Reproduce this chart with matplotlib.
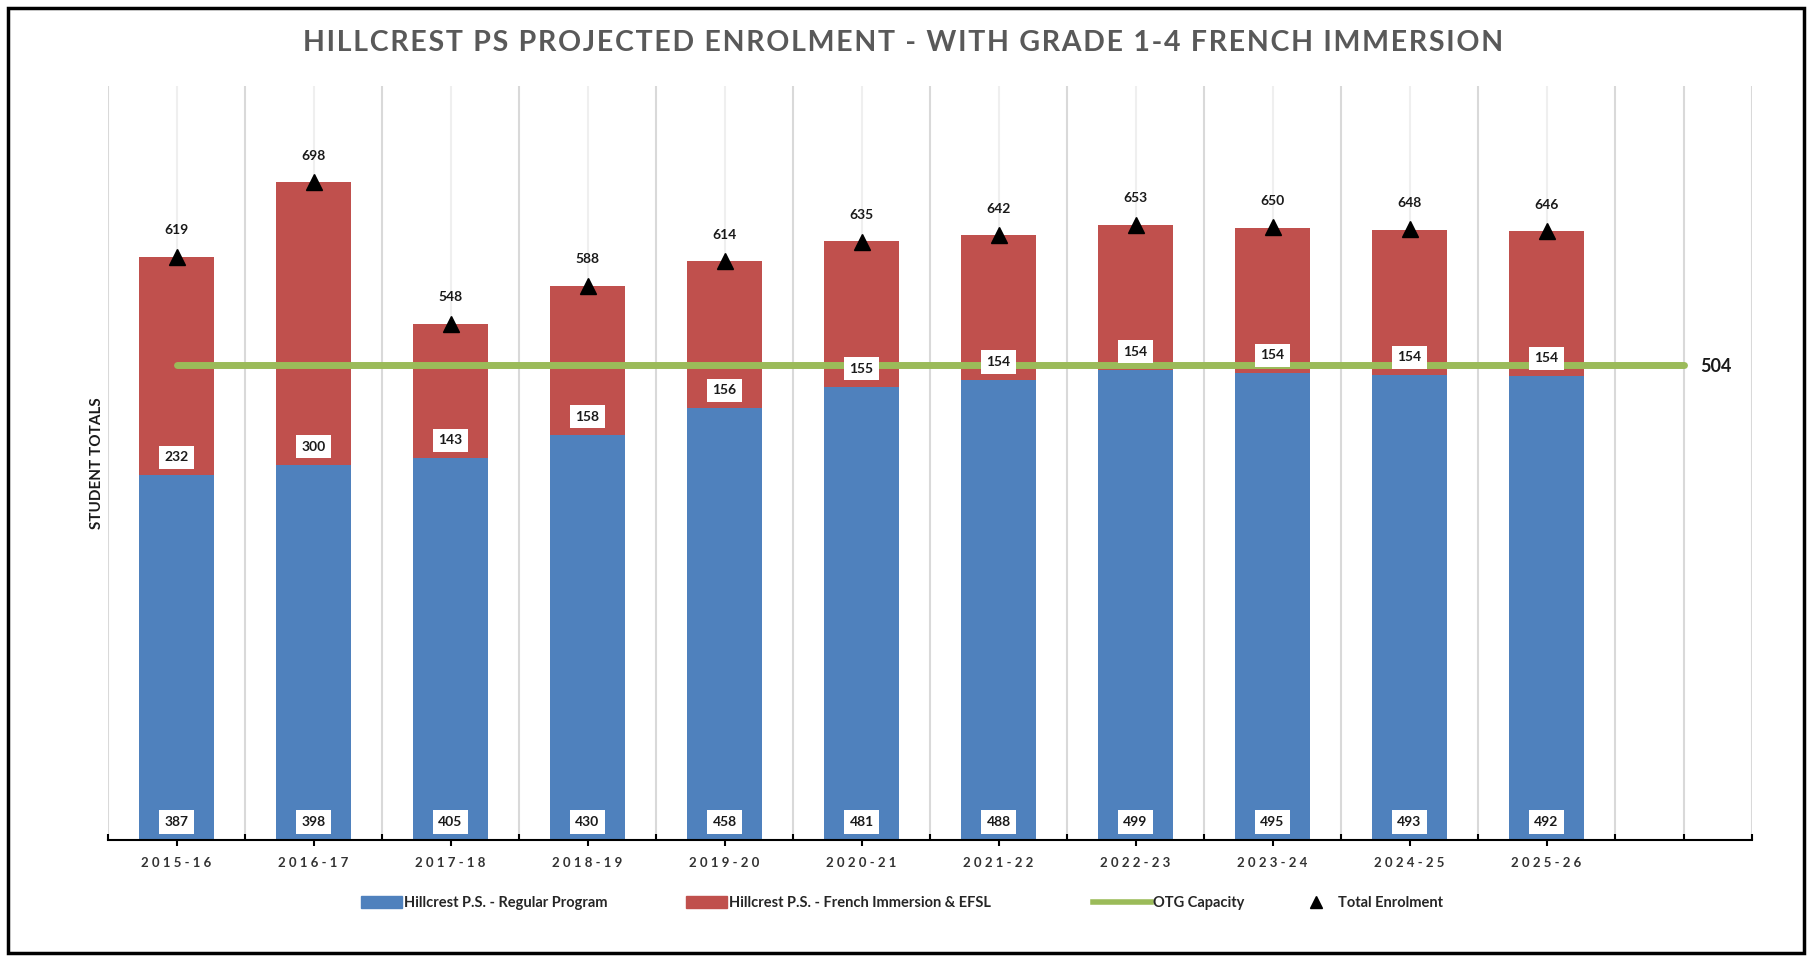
import matplotlib.pyplot as plt
from matplotlib.patches import Patch, Rectangle
from matplotlib.lines import Line2D

plt.rcParams['font.family'] = ['Lato', 'DejaVu Sans']

years = ["2015-16", "2016-17", "2017-18", "2018-19", "2019-20", "2020-21",
         "2021-22", "2022-23", "2023-24", "2024-25", "2025-26"]
regular = [387, 398, 405, 430, 458, 481, 488, 499, 495, 493, 492]
french = [232, 300, 143, 158, 156, 155, 154, 154, 154, 154, 154]
total = [619, 698, 548, 588, 614, 635, 642, 653, 650, 648, 646]
# capacity line runs one slot past the last year
capacity = [504, 504, 504, 504, 504, 504, 504, 504, 504, 504, 504, 504]

blue = '#4f81bd'
red = '#c0504d'
green = '#9bbb59'
txt = '#1a1a1a'


def spaced(s, gap):
    return gap.join(s)


W, H = 1807, 957
fig = plt.figure(figsize=(W / 100, H / 100), dpi=100)
ax = fig.add_axes([108 / W, 117 / H, (1752 - 108) / W, (840 - 86) / H])

x = list(range(len(years)))
xc = list(range(len(capacity)))

ax.bar(x, regular, width=0.55, color=blue, zorder=2)
ax.bar(x, french, width=0.55, bottom=regular, color=red, zorder=2)
ax.plot(xc, capacity, color=green, lw=5, solid_capstyle='round', zorder=3)
ax.plot(x, total, ls='none', marker='^', ms=11, color='black', zorder=4)

box = dict(boxstyle='square,pad=0.4', fc='white', ec='none')
for i in x:
    ax.annotate(str(regular[i]), (i, 0), xytext=(0, 13), textcoords='offset points',
                ha='center', va='center', fontsize=10, weight='bold', color=txt,
                bbox=box, zorder=5)
    ax.annotate(str(french[i]), (i, regular[i]), xytext=(0, 13), textcoords='offset points',
                ha='center', va='center', fontsize=10, weight='bold', color=txt,
                bbox=box, zorder=5)
    ax.annotate(str(total[i]), (i, total[i]), xytext=(0, 19), textcoords='offset points',
                ha='center', va='center', fontsize=10, weight='bold', color=txt, zorder=5)

ax.annotate(str(capacity[-1]), (xc[-1], capacity[-1]), xytext=(12, -1),
            textcoords='offset points', ha='left', va='center',
            fontsize=13, weight='bold', color=txt)

ax.set_xlim(-0.5, len(capacity) - 0.5)
ax.set_ylim(0, 800)

ax.set_xticks(x)
ax.set_xticklabels([spaced(y, '\u2009\u2009') for y in years], fontsize=9.5,
                   weight='bold', color='#333333')
ax.set_xticks([i - 0.5 for i in range(len(capacity) + 1)] + [len(capacity) - 1], minor=True)
ax.tick_params(axis='x', which='major', direction='inout', length=8, width=1.5, pad=8)
ax.tick_params(axis='x', which='minor', direction='in', length=4, width=1.5)
ax.set_yticks([])

ax.grid(axis='x', which='major', color='#efefef', lw=1.5, zorder=0)
ax.grid(axis='x', which='minor', color='#d9d9d9', lw=1.5, zorder=0)
ax.set_axisbelow(True)

for s in ['top', 'right', 'left']:
    ax.spines[s].set_visible(False)
ax.spines['bottom'].set_linewidth(1.5)
ax.spines['bottom'].set_color('black')

ax.set_ylabel('STUDENT TOTALS', fontsize=11, weight='bold', color=txt, labelpad=3)

title = 'HILLCREST PS PROJECTED ENROLMENT - WITH GRADE 1-4 FRENCH IMMERSION'
fig.text(0.5, 1 - 43 / H, spaced(title, '\u200a'),
         ha='center', va='center', fontsize=20.5, weight='bold', color='#595959')

# legend entries laid out one by one, like the spreadsheet legend
entries = [
    (Patch(color=blue, label='Hillcrest P.S. - Regular Program'), 361, 2.8, 0.15),
    (Patch(color=red, label='Hillcrest P.S. - French Immersion & EFSL'), 686, 2.8, 0.15),
    (Line2D([], [], color=green, lw=4, label='OTG Capacity'), 1093, 4.0, 0.1),
    (Line2D([], [], ls='none', marker='^', ms=8, color='black', label='Total Enrolment'),
     1300, 2.2, 0.4),
]
for h, left, hl, pad in entries:
    fig.legend(handles=[h], loc='center left', bbox_to_anchor=(left / W, 54 / H),
               frameon=False, prop={'size': 10.5, 'weight': 'bold'}, labelcolor='#262626',
               handlelength=hl, handleheight=0.9, handletextpad=pad,
               borderpad=0, borderaxespad=0)

fig.patches.append(Rectangle((8 / W, 4 / H), 1796 / W, 945 / H, transform=fig.transFigure,
                             fill=False, ec='black', lw=2.5))

fig.savefig('out.png', dpi=100)
